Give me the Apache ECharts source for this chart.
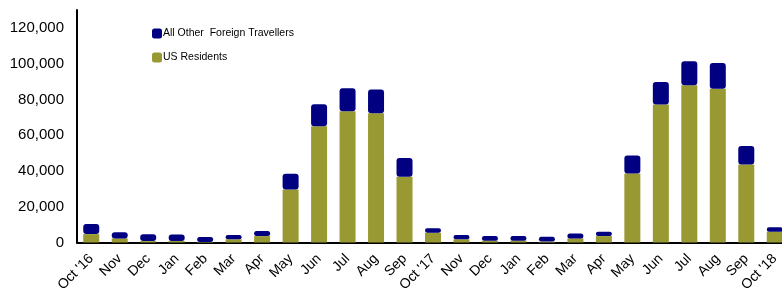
<!DOCTYPE html>
<html>
<head>
<meta charset="utf-8">
<script src="https://cdn.jsdelivr.net/npm/echarts@6/dist/echarts.min.js"></script>
<style>
	html, body { margin: 0; padding: 0; background: #fff; }
	#chart { width: 782px; height: 292px; }
</style>
</head>
<body>
<div id="chart"></div>
<script>
	// months, Oct 2016 to Oct 2018
	var months = ["Oct '16", 'Nov', 'Dec', 'Jan', 'Feb', 'Mar', 'Apr', 'May', 'Jun', 'Jul', 'Aug', 'Sep',
		"Oct '17", 'Nov', 'Dec', 'Jan', 'Feb', 'Mar', 'Apr', 'May', 'Jun', 'Jul', 'Aug', 'Sep', "Oct '18"];
	// US residents (bottom segment)
	var usResidents = [4700, 2300, 800, 900, 300, 1800, 3600, 29700, 65000, 73400, 72300, 36700,
		5500, 1800, 1000, 1000, 500, 2300, 3600, 38600, 77100, 87900, 86000, 43600, 6000];
	// all other foreign travellers (top segment)
	var otherForeign = [5600, 3400, 3800, 3600, 2800, 2400, 2800, 8700, 12300, 12800, 13300, 10500,
		2400, 2400, 2600, 2600, 2700, 2800, 2400, 10100, 12600, 13400, 14300, 10400, 2500];
	var yTicks = [0, 20000, 40000, 60000, 80000, 100000, 120000];

	var chart = echarts.init(document.getElementById('chart'));

	var option = {
		animation: false,
		textStyle: { fontFamily: 'Liberation Sans, Arial, sans-serif' },
		legend: {
			orient: 'vertical',
			left: 147,
			top: 23,
			itemWidth: 10,
			itemHeight: 10,
			itemGap: 13,
			icon: 'roundRect',
			textStyle: { fontSize: 10.5, color: '#000', padding: [0, 0, 0, -4] },
			data: ['All Other  Foreign Travellers', 'US Residents']
		},
		grid: { left: 77, top: 10, width: 712, height: 232.5, outerBoundsMode: 'none', containLabel: false },
		xAxis: {
			type: 'category',
			data: months,
			axisLine: { lineStyle: { color: '#000', width: 2 } },
			axisTick: { show: false },
			axisLabel: { rotate: 45, interval: 0, fontSize: 14, color: '#000', margin: 14 }
		},
		yAxis: {
			type: 'value',
			min: 0,
			max: 130000,
			interval: 20000,
			axisLine: { show: true, lineStyle: { color: '#000', width: 2 } },
			axisTick: { show: false },
			splitLine: { show: false },
			axisLabel: {
				fontSize: 15,
				color: '#000',
				margin: 13,
				formatter: function(v) {
					return yTicks.indexOf(v) >= 0 ? v.toLocaleString('en-US') : '';
				}
			}
		},
		series: [{
			name: 'US Residents',
			type: 'bar',
			stack: 'total',
			barWidth: 16,
			itemStyle: { color: '#999933' },
			data: usResidents
		}, {
			name: 'All Other  Foreign Travellers',
			type: 'bar',
			stack: 'total',
			barWidth: 16,
			itemStyle: { color: '#000080', borderRadius: 3 },
			data: otherForeign
		}]
	};

	chart.setOption(option);
</script>
</body>
</html>
